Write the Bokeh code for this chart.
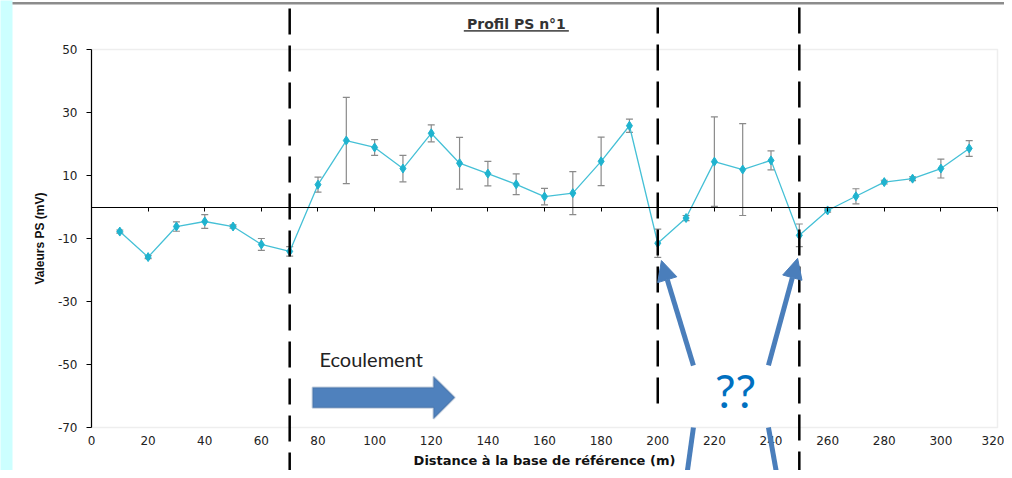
from bokeh.plotting import figure
from bokeh.models import (Range1d, LinearAxis, FixedTicker, Whisker, TeeHead, Label,
                          Arrow, NormalHead, PolyAnnotation, BoxAnnotation, ColumnDataSource)
from bokeh.embed import file_html
from bokeh.resources import INLINE

# ---- data ----
distance = [10, 20, 30, 40, 50, 60, 70, 80, 90, 100, 110, 120, 130, 140, 150, 160,
            170, 180, 190, 200, 210, 220, 230, 240, 250, 260, 270, 280, 290, 300, 310]
ps_values = [-7.8, -15.9, -6.2, -4.6, -6.2, -11.9, -14.1, 7.1, 21.1, 18.9, 12.2, 23.4,
             13.9, 10.6, 7.2, 3.3, 4.4, 14.5, 25.8, -11.5, -3.5, 14.4, 11.9, 14.8,
             -9.0, -1.1, 3.4, 7.9, 9.0, 12.2, 18.6]
ps_error = [0.5, 0.5, 1.5, 2.2, 0.5, 1.9, 1.5, 2.4, 13.7, 2.5, 4.2, 2.7, 8.2, 3.9, 3.3,
            2.6, 6.8, 7.7, 2.1, 4.5, 0.8, 14.2, 14.6, 3.0, 3.6, 0.5, 2.4, 0.6, 0.6, 3.0, 2.5]
x_ticks = [0, 20, 40, 60, 80, 100, 120, 140, 160, 180, 200, 220, 240, 260, 280, 300, 320]
y_ticks = [-70, -50, -30, -10, 10, 30, 50]
y_tick_labels = ["-70", "-50", "-30", "-10", "10", "30", "50"]
boundaries = [70, 200, 250]

X_MIN, X_MAX = 0, 320
Y_MIN, Y_MAX = -70, 50

# ---- annotation geometry (data space) ----
boundary_top = [63.0, 63.3, 63.3]
boundary_bottom = [-86, -64.9, -86]
flow_arrow_x = [78.1, 120.8, 120.8, 128.3, 120.8, 120.8, 78.1]
flow_arrow_y = [-57.3, -57.3, -53.8, -60.5, -67.2, -63.7, -63.7]

src = ColumnDataSource(dict(
    x=distance, y=ps_values,
    upper=[v + e for v, e in zip(ps_values, ps_error)],
    lower=[v - e for v, e in zip(ps_values, ps_error)],
))

FONT = "Liberation Sans"
TICK_FONT = "DejaVu Sans"

# the frame covers the whole canvas so that overlays may run past the plot area;
# the plot area itself is x 0..320, y -70..50
p = figure(width=1004, height=470, output_backend="svg", toolbar_location=None,
           title=None, x_axis_location=None, y_axis_location=None,
           x_range=Range1d(-32.141, 322.472), y_range=Range1d(-83.651, 65.556),
           min_border=0)
p.grid.visible = False
p.outline_line_color = None
p.background_fill_color = "white"
p.border_fill_color = "white"

# plot-area border (light grey)
p.add_layout(BoxAnnotation(left=X_MIN, right=X_MAX, bottom=Y_MIN, top=Y_MAX,
                           fill_color=None, fill_alpha=0, line_color="#c8c8c8",
                           line_width=1.5, level="underlay"))

# page decorations: left cyan strip and top grey rule
p.add_layout(BoxAnnotation(left=-40, right=-27.9, bottom=-90, top=70,
                           fill_color="#ccffff", fill_alpha=1, line_color=None,
                           level="underlay"))
p.add_layout(Arrow(end=None, x_start=-27.9, y_start=64.7, x_end=330, y_end=64.7,
                   line_color="#8c8c8c", line_width=2.5))

# bottom axis: labels only, placed on the plot-area bottom
xa = LinearAxis(fixed_location=Y_MIN, bounds=(X_MIN, X_MAX), ticker=FixedTicker(ticks=x_ticks))
xa.axis_line_color = None
xa.major_tick_line_color = None
xa.minor_tick_line_color = None
xa.major_tick_out = 0
xa.major_tick_in = 0
xa.major_label_standoff = 9
xa.major_label_text_font = TICK_FONT
xa.major_label_text_font_size = "12px"
xa.major_label_text_color = "#222222"
xa.axis_label = "Distance à la base de référence (m)"
xa.axis_label_text_font = "DejaVu Sans"
xa.axis_label_text_font_style = "bold"
xa.axis_label_text_font_size = "13px"
xa.axis_label_text_color = "#111111"
xa.axis_label_standoff = 4
p.add_layout(xa, "below")

ya = LinearAxis(fixed_location=X_MIN, bounds=(Y_MIN, Y_MAX), ticker=FixedTicker(ticks=y_ticks))
ya.major_label_overrides = dict(zip(y_ticks, y_tick_labels))
ya.axis_line_color = "black"
ya.axis_line_width = 1.2
ya.major_tick_line_color = "black"
ya.minor_tick_line_color = None
ya.major_tick_out = 5
ya.major_tick_in = 0
ya.major_label_standoff = 9
ya.major_label_text_font = TICK_FONT
ya.major_label_text_font_size = "12px"
ya.major_label_text_color = "#222222"
ya.axis_label = "Valeurs PS (mV)"
ya.axis_label_text_font = FONT
ya.axis_label_text_font_style = "bold"
ya.axis_label_text_font_size = "12px"
ya.axis_label_text_color = "#111111"
ya.axis_label_standoff = 8
p.add_layout(ya, "left")

# zero line axis with ticks pointing down
zero_axis = LinearAxis(fixed_location=0, bounds=(X_MIN, X_MAX), ticker=FixedTicker(ticks=x_ticks),
                       axis_line_color="black", axis_line_width=1.2,
                       major_tick_line_color="black", major_tick_in=4, major_tick_out=0,
                       minor_tick_line_color=None, major_label_text_color=None,
                       major_label_text_font_size="1px")
p.add_layout(zero_axis, "above")

# dashed boundaries
for bx, bt, bb in zip(boundaries, boundary_top, boundary_bottom):
    p.add_layout(Arrow(end=None, x_start=bx, y_start=bt, x_end=bx, y_end=bb,
                       line_color="black", line_width=2.5, line_dash="26 11"))

# error bars
p.add_layout(Whisker(source=src, base="x", upper="upper", lower="lower",
                     line_color="#8a8a8a", line_width=1.2,
                     upper_head=TeeHead(size=7, line_color="#8a8a8a", line_width=1.2),
                     lower_head=TeeHead(size=7, line_color="#8a8a8a", line_width=1.2)))

p.line("x", "y", source=src, line_color="#45c0d6", line_width=1.3)
p.scatter("x", "y", source=src, marker="diamond", size=9, fill_color="#1fb3cf",
          line_color="#1fb3cf")

# title
p.add_layout(Label(x=150.1, y=58.25, text="Profil PS n°1", text_align="center",
                   text_baseline="middle", text_font="DejaVu Sans", text_font_style="bold",
                   text_font_size="14px", text_color="#333333"))
p.add_layout(Arrow(end=None, x_start=131.5, y_start=55.9, x_end=168.6, y_end=55.9,
                   line_color="#555555", line_width=1.8))

# flow annotation
p.add_layout(Label(x=80.5, y=-48.4, text="Ecoulement", text_align="left",
                   text_baseline="middle", text_font="Lato", text_font_size="20px",
                   text_color="#222222"))
p.add_layout(PolyAnnotation(xs=flow_arrow_x, ys=flow_arrow_y, fill_color="#4f81bd",
                            fill_alpha=1.0, line_color="#3a5f8f", line_width=2))

# question annotation
p.add_layout(Label(x=227.5, y=-58.3, text="??", text_align="center",
                   text_baseline="middle", text_font="Lato", text_font_size="46px",
                   text_color="#0070c0"))
BLUE = "#4a7ebb"
p.add_layout(Arrow(x_start=212.6, y_start=-50.3, x_end=201.3, y_end=-17.0,
                   line_color=BLUE, line_width=5,
                   end=NormalHead(size=20, fill_color=BLUE, line_color=BLUE)))
p.add_layout(Arrow(x_start=239.1, y_start=-50.3, x_end=249.4, y_end=-16.3,
                   line_color=BLUE, line_width=5,
                   end=NormalHead(size=20, fill_color=BLUE, line_color=BLUE)))
p.add_layout(Arrow(end=None, x_start=212.6, y_start=-70.0, x_end=210.1, y_end=-86.2,
                   line_color=BLUE, line_width=5))
p.add_layout(Arrow(end=None, x_start=239.1, y_start=-70.0, x_end=242.3, y_end=-86.2,
                   line_color=BLUE, line_width=5))

open("out.html", "w").write(file_html(p, INLINE))
